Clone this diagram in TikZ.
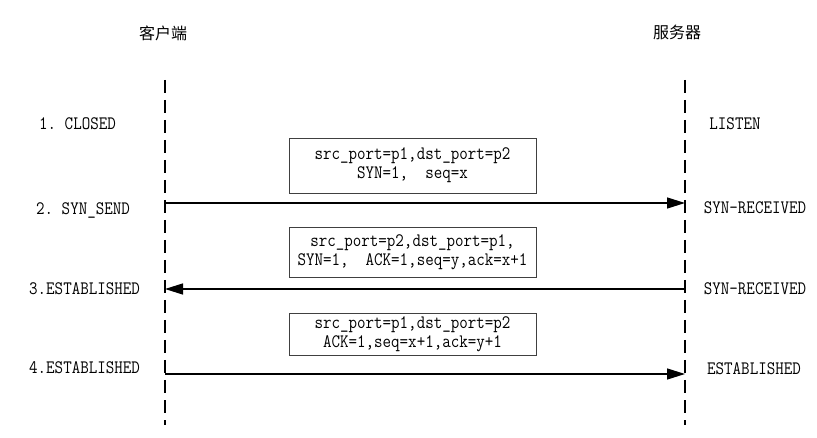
\documentclass[tikz,border=0pt]{standalone}
\usepackage{fontspec}
\setmonofont[FakeStretch=0.87]{Latin Modern Mono}
\newfontfamily\cjk{Noto Sans CJK SC}
\usetikzlibrary{arrows.meta}
\begin{document}
\begin{tikzpicture}[x=1pt,y=-1pt,
  lifeline/.style={line width=1.4pt, dash pattern=on 13pt off 7pt},
  msg/.style={line width=1.4pt, -{Triangle[length=18pt,width=11pt]}},
  msgbox/.style={draw=black!75, line width=0.9pt, minimum width=247pt,
    align=center, font=\ttfamily\fontsize{19}{19}\selectfont, inner sep=0pt},
  state/.style={font=\ttfamily\fontsize{19}{19}\selectfont, inner sep=0pt},
  head/.style={font=\cjk\fontsize{16}{18}\selectfont, inner sep=0pt}]
\useasboundingbox (0,0) rectangle (817,438);

% party headings
\node[head] (client) at (163,33) {客户端};
\node[head] (server) at (677,32) {服务器};

% lifelines
\coordinate (cTop) at (165,80);
\coordinate (cBot) at (165,425);
\coordinate (sTop) at (685,80);
\coordinate (sBot) at (685,425);
\draw[lifeline] (cTop) -- (cBot);
\draw[lifeline] (sTop) -- (sBot);

% client states
\node[state, anchor=west] (c1) at (39,124) {1. CLOSED};
\node[state, anchor=west] (c2) at (36,210) {2. SYN\_SEND};
\node[state, anchor=west] (c3) at (29,289) {3.ESTABLISHED};
\node[state, anchor=west] (c4) at (29,368) {4.ESTABLISHED};

% server states
\node[state] (s1) at (735,124) {LISTEN};
\node[state] (s2) at (755,208) {SYN-RECEIVED};
\node[state] (s3) at (755,289) {SYN-RECEIVED};
\node[state] (s4) at (754,369) {ESTABLISHED};

% segment contents
\node[msgbox, minimum height=55pt] (b1) at (412.5,165.5)
  {src\_port=p1,dst\_port=p2\\SYN=1,~ seq=x};
\node[msgbox, minimum height=50pt] (b2) at (412.5,252)
  {src\_port=p2,dst\_port=p1,\\SYN=1,~ ACK=1,seq=y,ack=x+1};
\node[msgbox, minimum height=42pt] (b3) at (412.5,334)
  {src\_port=p1,dst\_port=p2\\ACK=1,seq=x+1,ack=y+1};

% handshake messages
\coordinate (m1a) at (165,203);
\coordinate (m1b) at (685,203);
\coordinate (m2a) at (685,289);
\coordinate (m2b) at (165,289);
\coordinate (m3a) at (165,374);
\coordinate (m3b) at (685,374);
\draw[msg] (m1a) -- (m1b);
\draw[msg] (m2a) -- (m2b);
\draw[msg] (m3a) -- (m3b);
\end{tikzpicture}
\end{document}
